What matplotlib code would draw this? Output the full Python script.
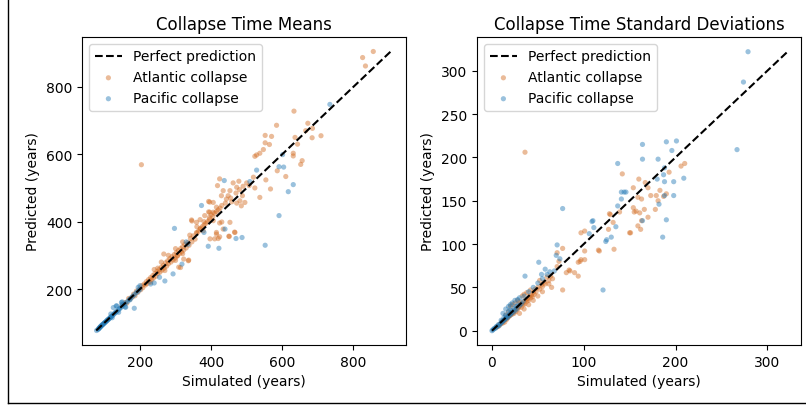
import matplotlib
matplotlib.use("Agg")
import matplotlib.pyplot as plt
import numpy as np
from matplotlib.lines import Line2D

# Collapse time means (years): simulated vs predicted
atl_mean_sim = [204, 826, 834, 856, 633, 584, 552, 570, 552, 564, 547, 528, 537, 523, 672, 685, 666, 636,
                684, 709, 643, 631, 631, 656, 652, 610, 586, 567, 554, 537, 523, 519, 507, 478, 462, 472,
                453, 488, 481, 495, 485, 472, 458, 448, 418, 424, 434, 429, 443, 393, 406, 415, 406, 396,
                382, 395, 345, 369, 359, 369, 359, 378, 406, 424, 453, 434, 415, 397, 415, 420, 451, 467,
                336, 314, 323, 305, 337, 309, 267, 346, 396, 393, 430, 450, 466, 410, 424,
                150, 158, 163, 168, 172, 178, 182, 186, 190, 194, 198, 202, 205, 208, 212, 215, 218, 220,
                224, 226, 230, 233, 236, 238, 242, 245, 248, 250, 254, 256, 260, 262, 266, 268, 272, 275,
                278, 280, 284, 287, 290, 293, 296, 299, 302, 305, 308, 311, 314, 317, 320, 323, 326, 330,
                334, 338, 342, 346, 350, 355, 360, 365, 370, 375, 380, 385, 390, 395, 400, 405, 410, 415,
                420, 425, 430, 280, 300, 320, 260, 240, 250, 300, 320, 270, 230, 360, 340, 380,
                440, 455, 470, 490, 500, 480]
atl_mean_pred = [569, 887, 862, 905, 728, 686, 656, 653, 634, 629, 614, 598, 603, 594, 692, 677, 670, 650,
                 649, 655, 630, 603, 595, 581, 570, 534, 551, 497, 524, 472, 500, 532, 507, 520, 515, 502,
                 492, 477, 462, 457, 447, 455, 459, 477, 507, 527, 492, 477, 467, 460, 457, 443, 428, 428,
                 418, 406, 405, 406, 398, 378, 368, 373, 403, 396, 398, 378, 368, 349, 363, 350, 356, 368,
                 284, 264, 289, 299, 286, 265, 304, 402, 458, 429, 399, 357, 369, 349, 355,
                 152, 160, 158, 172, 170, 176, 185, 180, 194, 190, 200, 198, 210, 204, 215, 212, 222, 216,
                 228, 222, 234, 228, 240, 233, 246, 238, 252, 246, 258, 250, 265, 256, 270, 262, 278, 268,
                 284, 275, 290, 280, 296, 286, 302, 292, 308, 298, 314, 305, 320, 310, 326, 316, 332, 322,
                 338, 330, 350, 340, 358, 348, 366, 372, 380, 385, 390, 395, 400, 412, 420, 415, 425, 430,
                 435, 440, 448, 300, 320, 340, 280, 258, 262, 285, 305, 255, 220, 385, 360, 400,
                 455, 470, 485, 505, 515, 495]

pac_mean_sim = [734, 601, 591, 604, 528, 509, 437, 631, 617, 591, 552, 487, 470, 439, 422, 392, 373, 297,
                380, 184, 318, 293, 270, 135, 150, 158, 330, 335,
                78, 82, 84, 85, 86, 88, 89, 90, 92, 93, 95, 96, 98, 100, 101, 103, 105, 107, 108, 110,
                112, 114, 116, 118, 120, 122, 125, 128, 130, 133, 136, 140, 143, 146, 150, 155, 160, 165,
                170, 175, 180, 185, 190, 195, 200,
                125, 133, 148, 160, 172, 140, 122, 118, 195, 200, 230, 240, 255, 150]
pac_mean_pred = [748, 599, 563, 562, 553, 519, 522, 510, 489, 418, 330, 353, 350, 378, 321, 327, 448, 380,
                 368, 143, 274, 245, 224, 150, 155, 147, 340, 333,
                 77, 80, 82, 84, 85, 87, 88, 90, 91, 93, 94, 96, 97, 99, 101, 102, 104, 106, 108, 109,
                 111, 113, 115, 117, 119, 121, 124, 127, 130, 132, 135, 139, 142, 145, 149, 154, 159, 163,
                 169, 174, 179, 184, 190, 194, 199,
                 145, 150, 160, 146, 168, 131, 115, 126, 205, 210, 215, 218, 235, 162]

# Collapse time standard deviations (years)
atl_std_sim = [36, 142, 210, 206, 193, 160, 170, 167, 173, 183, 179, 187, 190, 181, 178, 154, 159, 163,
               154, 157, 161, 166, 170, 163, 159, 162, 151, 139, 128, 132, 127, 133, 116, 101, 97, 101,
               101, 97, 94, 94, 84, 77, 71, 77, 71, 81, 90, 73, 96, 85, 65, 52, 62, 150, 155, 129, 117,
               5, 7, 8, 10, 11, 12, 13, 14, 15, 16, 17, 18, 19, 20, 21, 22, 23, 24, 25, 26, 27, 28, 29,
               30, 31, 32, 33, 34, 35, 36, 37, 38, 39, 40, 41, 42, 43, 44, 45, 46, 47, 48, 50, 52, 54,
               55, 57, 58, 60, 62, 64, 66, 25, 28, 33, 35, 38, 42, 20, 22, 30, 35, 40, 45, 50, 55, 30,
               18, 15]
atl_std_pred = [206, 181, 193, 190, 183, 175, 165, 171, 156, 162, 156, 155, 158, 150, 140, 165, 154, 152,
                142, 138, 136, 140, 131, 127, 121, 117, 113, 137, 135, 125, 117, 94, 93, 115, 113, 92,
                82, 82, 79, 63, 70, 95, 90, 47, 74, 67, 67, 80, 80, 69, 50, 58, 54, 113, 137, 134, 92,
                4, 5, 7, 8, 11, 9, 12, 10, 14, 13, 15, 16, 17, 18, 20, 19, 22, 20, 24, 22, 26, 25, 27,
                28, 30, 27, 32, 30, 33, 31, 36, 34, 37, 35, 40, 38, 41, 39, 44, 42, 48, 45, 50, 48, 53,
                51, 56, 54, 62, 58, 63, 60, 32, 35, 40, 42, 44, 47, 28, 30, 20, 25, 30, 35, 40, 45, 33,
                22, 18]

pac_std_sim = [279, 274, 267, 201, 190, 164, 196, 181, 164, 137, 188, 180, 187, 209, 198, 188, 198, 188,
               182, 141, 146, 141, 137, 190, 186, 77, 164, 135, 125, 130, 110, 111, 106, 71, 51, 36, 54,
               70, 74, 121, 109, 124, 58, 68, 144,
               0, 1, 2, 3, 4, 5, 6, 7, 8, 9, 10, 10, 11, 12, 13, 13, 14, 15, 15, 16, 17, 18, 18, 19, 20,
               20, 21, 22, 23, 24, 25, 26, 27, 28, 30, 32, 34, 12, 15, 18, 20, 22, 25, 28, 30, 35, 40,
               45, 50, 55, 60, 63]
pac_std_pred = [322, 287, 209, 219, 218, 215, 208, 198, 198, 193, 188, 175, 180, 176, 172, 172, 156, 156,
                146, 160, 160, 152, 144, 128, 108, 141, 127, 120, 105, 108, 127, 119, 112, 99, 79, 63, 65,
                87, 83, 47, 126, 103, 71, 69, 160,
                0, 1, 2, 3, 3, 5, 5, 7, 6, 8, 9, 12, 10, 11, 12, 15, 13, 14, 18, 16, 15, 17, 22, 19, 18,
                24, 20, 23, 21, 26, 23, 28, 25, 30, 29, 31, 34, 20, 25, 28, 30, 32, 35, 36, 38, 40, 45,
                50, 55, 60, 65, 68]

titles = ["Collapse Time Means", "Collapse Time Standard Deviations"]
limits = [((37, 948), (34, 948)), ((-16.3, 336.7), (-16.5, 339))]

atl_color = "#d2691e"
pac_color = "#1f77b4"

fig = plt.figure(figsize=(8.06, 4.06), dpi=100)
ax1 = fig.add_axes([82 / 806, 1 - 346 / 406, 324 / 806, 308 / 406])
ax2 = fig.add_axes([477 / 806, 1 - 346 / 406, 324 / 806, 308 / 406])

panels = [
    (ax1, atl_mean_sim, atl_mean_pred, pac_mean_sim, pac_mean_pred),
    (ax2, atl_std_sim, atl_std_pred, pac_std_sim, pac_std_pred),
]

for i, (ax, a_sim, a_pred, p_sim, p_pred) in enumerate(panels):
    allv = np.concatenate([a_sim, a_pred, p_sim, p_pred])
    lo, hi = allv.min(), allv.max()
    ax.plot([lo, hi], [lo, hi], "k--", lw=1.5, label="Perfect prediction", zorder=3)
    ax.scatter(a_sim, a_pred, s=14, color=atl_color, alpha=0.45, edgecolors="none",
               label="Atlantic collapse", zorder=2)
    ax.scatter(p_sim, p_pred, s=14, color=pac_color, alpha=0.45, edgecolors="none",
               label="Pacific collapse", zorder=2)
    ax.set_xlim(*limits[i][0])
    ax.set_ylim(*limits[i][1])
    ax.set_title(titles[i])
    ax.set_xlabel("Simulated (years)")
    ax.set_ylabel("Predicted (years)")
    ax.legend(loc="upper left")

# frame lines from the screenshot
fig.add_artist(Line2D([8 / 806, 8 / 806], [1 - 404 / 406, 1], color="black", lw=1))
fig.add_artist(Line2D([8 / 806, 1], [1 - 404 / 406, 1 - 404 / 406], color="black", lw=1))

fig.savefig("out.png", dpi=100)
